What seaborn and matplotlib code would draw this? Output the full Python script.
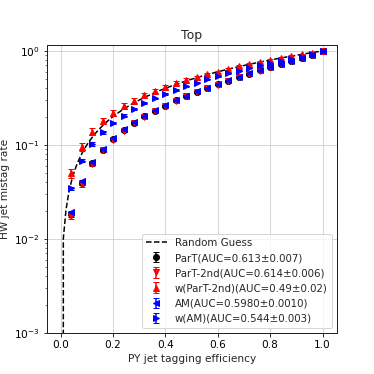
import numpy as np
import matplotlib
matplotlib.use("Agg")
import matplotlib.pyplot as plt
import seaborn as sns

# signal efficiency points
eff = [0.04, 0.08, 0.12, 0.16, 0.20, 0.24, 0.28, 0.32, 0.36, 0.40, 0.44, 0.48, 0.52,
       0.56, 0.60, 0.64, 0.68, 0.72, 0.76, 0.80, 0.84, 0.88, 0.92, 0.96, 1.00]

part = [0.0183, 0.0394, 0.0636, 0.0886, 0.1156, 0.144, 0.173, 0.202, 0.230, 0.261,
        0.298, 0.330, 0.367, 0.404, 0.442, 0.483, 0.527, 0.573, 0.620, 0.672,
        0.723, 0.785, 0.843, 0.914, 1.0]
part_err = [0.0012, 0.002, 0.003, 0.003, 0.004, 0.004, 0.004, 0.005, 0.005, 0.005,
            0.005, 0.005, 0.005, 0.005, 0.005, 0.005, 0.005, 0.005, 0.005, 0.005,
            0.004, 0.004, 0.003, 0.003, 0.0]

part2 = [0.0175, 0.0385, 0.0625, 0.0875, 0.114, 0.142, 0.171, 0.200, 0.228, 0.259,
         0.295, 0.328, 0.364, 0.401, 0.439, 0.480, 0.524, 0.570, 0.617, 0.669,
         0.720, 0.782, 0.841, 0.912, 1.0]
part2_err = [0.0014, 0.0025, 0.0035, 0.004, 0.005, 0.005, 0.006, 0.006, 0.006, 0.006,
             0.006, 0.006, 0.006, 0.006, 0.006, 0.006, 0.006, 0.006, 0.006, 0.005,
             0.005, 0.005, 0.004, 0.003, 0.0]

w_part2 = [0.050, 0.096, 0.138, 0.179, 0.220, 0.260, 0.295, 0.336, 0.373, 0.414,
           0.453, 0.490, 0.527, 0.567, 0.600, 0.640, 0.684, 0.720, 0.766, 0.800,
           0.840, 0.885, 0.920, 0.960, 1.0]
w_part2_err = [0.006, 0.010, 0.012, 0.014, 0.016, 0.017, 0.018, 0.019, 0.020, 0.020,
               0.020, 0.020, 0.020, 0.019, 0.019, 0.018, 0.017, 0.016, 0.015, 0.013,
               0.012, 0.010, 0.008, 0.006, 0.0]

am = [0.0192, 0.041, 0.065, 0.0905, 0.118, 0.147, 0.176, 0.205, 0.234, 0.265,
      0.302, 0.334, 0.371, 0.408, 0.446, 0.487, 0.531, 0.577, 0.625, 0.676,
      0.727, 0.789, 0.846, 0.916, 1.0]
am_err = [0.0008, 0.0012, 0.0015, 0.002, 0.002, 0.002, 0.002, 0.002, 0.002, 0.002,
          0.002, 0.002, 0.002, 0.002, 0.002, 0.002, 0.002, 0.002, 0.002, 0.002,
          0.002, 0.002, 0.002, 0.001, 0.0]

w_am = [0.0344, 0.068, 0.1025, 0.136, 0.172, 0.205, 0.241, 0.277, 0.313, 0.347,
        0.385, 0.421, 0.460, 0.499, 0.537, 0.577, 0.616, 0.662, 0.700, 0.741,
        0.785, 0.830, 0.871, 0.920, 1.0]
w_am_err = [0.0015, 0.003, 0.004, 0.005, 0.005, 0.006, 0.006, 0.006, 0.006, 0.006,
            0.006, 0.006, 0.006, 0.006, 0.006, 0.006, 0.006, 0.006, 0.006, 0.005,
            0.005, 0.005, 0.004, 0.003, 0.0]

sns.set_style("ticks")
plt.rcParams['font.family'] = ['DejaVu Sans']
plt.rcParams['font.size'] = 10.5

fig, ax = plt.subplots(figsize=(5.2, 5.2), dpi=72)

xs = np.linspace(0, 1, 100)
ax.plot(xs, xs, 'k--', lw=1.5, label='Random Guess')

ax.errorbar(eff, part, yerr=part_err, fmt='o', color='black', ms=6, capsize=3,
            label='ParT(AUC=0.613±0.007)')
ax.errorbar(eff, part2, yerr=part2_err, fmt='v', color='red', ms=6, capsize=3,
            label='ParT-2nd(AUC=0.614±0.006)')
ax.errorbar(eff, w_part2, yerr=w_part2_err, fmt='^', color='red', ms=6, capsize=3,
            label='w(ParT-2nd)(AUC=0.49±0.02)')
ax.errorbar(eff, am, yerr=am_err, fmt='<', color='blue', ms=6, capsize=3,
            label='AM(AUC=0.5980±0.0010)')
ax.errorbar(eff, w_am, yerr=w_am_err, fmt='>', color='blue', ms=6, capsize=3,
            label='w(AM)(AUC=0.544±0.003)')

ax.set_yscale('log')
ax.set_xlim(-0.053, 1.055)
ax.set_ylim(1e-3, 1.17)
ax.grid(True, which='major', color='#cccccc', linewidth=0.8)
for s in ax.spines.values():
    s.set_color('#222222')
    s.set_linewidth(1.0)
ax.tick_params(colors='black', labelsize=10.5)
ax.set_title('Top', fontsize=12.5)
ax.set_xlabel('PY jet tagging efficiency', fontsize=10.5)
ax.set_ylabel('HW jet mistag rate', fontsize=10.5)
ax.legend(loc='lower right', fontsize=10.3)

plt.savefig('out.png', dpi=72)
